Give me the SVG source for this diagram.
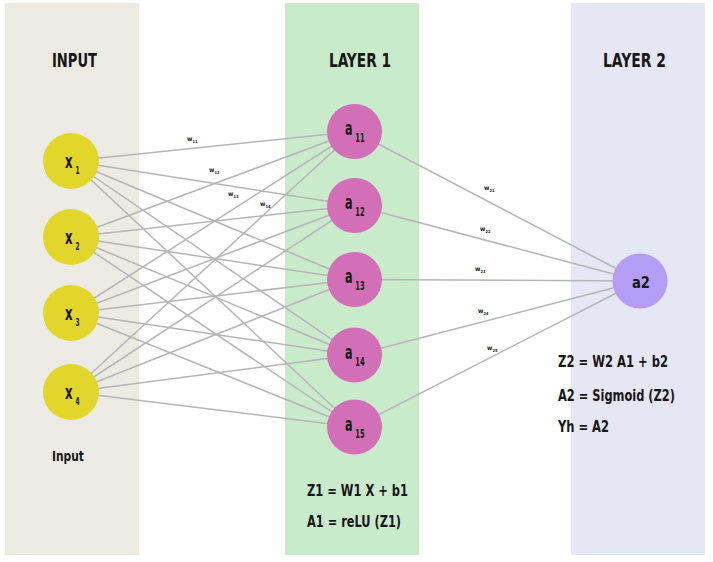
<svg xmlns="http://www.w3.org/2000/svg" width="713" height="562" viewBox="0 0 713 562">
<style>
.f{font-family:"Liberation Sans Narrow","DejaVu Sans Condensed","DejaVu Sans",sans-serif;font-stretch:condensed;font-weight:bold;fill:#161616}
.hdr{font-size:20px}
.lbl{font-size:20px}
.sub{font-size:12px}
.xsub{font-size:10px}
.eq{font-size:15px}
.w{font-size:6.5px}
.ws{font-size:4px}
.conn line{stroke:#b5b5b5;stroke-width:1.5}
.nx{fill:#e2d52c}
.na{fill:#d36fb6}
.nb{fill:#b49df4}
</style>
<rect width="713" height="562" fill="#ffffff"/>
<g id="panels">
<rect id="panel-input" x="5" y="3" width="134" height="552" fill="#ecebe3"/>
<rect id="panel-layer1" x="285" y="3" width="134" height="552" fill="#caeacc"/>
<rect id="panel-layer2" x="571" y="3" width="134" height="552" fill="#e6e6f5"/>
</g>
<g id="headers" class="f hdr">
<text x="52" y="67" textLength="45" lengthAdjust="spacingAndGlyphs">INPUT</text>
<text x="329" y="67" textLength="62" lengthAdjust="spacingAndGlyphs">LAYER 1</text>
<text x="603" y="67" textLength="63" lengthAdjust="spacingAndGlyphs">LAYER 2</text>
</g>
<g id="connectors" class="conn">
<line x1="71" y1="161" x2="354.5" y2="131.5"/>
<line x1="71" y1="161" x2="354.5" y2="205.5"/>
<line x1="71" y1="161" x2="354.5" y2="279.5"/>
<line x1="71" y1="161" x2="354.5" y2="355"/>
<line x1="71" y1="161" x2="354.5" y2="427"/>
<line x1="71" y1="237" x2="354.5" y2="131.5"/>
<line x1="71" y1="237" x2="354.5" y2="205.5"/>
<line x1="71" y1="237" x2="354.5" y2="279.5"/>
<line x1="71" y1="237" x2="354.5" y2="355"/>
<line x1="71" y1="237" x2="354.5" y2="427"/>
<line x1="71" y1="313" x2="354.5" y2="131.5"/>
<line x1="71" y1="313" x2="354.5" y2="205.5"/>
<line x1="71" y1="313" x2="354.5" y2="279.5"/>
<line x1="71" y1="313" x2="354.5" y2="355"/>
<line x1="71" y1="313" x2="354.5" y2="427"/>
<line x1="71" y1="392" x2="354.5" y2="131.5"/>
<line x1="71" y1="392" x2="354.5" y2="205.5"/>
<line x1="71" y1="392" x2="354.5" y2="279.5"/>
<line x1="71" y1="392" x2="354.5" y2="355"/>
<line x1="71" y1="392" x2="354.5" y2="427"/>
<line x1="354.5" y1="131.5" x2="640" y2="281"/>
<line x1="354.5" y1="205.5" x2="640" y2="281"/>
<line x1="354.5" y1="279.5" x2="640" y2="281"/>
<line x1="354.5" y1="355" x2="640" y2="281"/>
<line x1="354.5" y1="427" x2="640" y2="281"/>
</g>
<g id="weights" class="f w">
<text x="187" y="141">w<tspan class="ws" dy="1.5">11</tspan></text>
<text x="209" y="172">w<tspan class="ws" dy="1.5">12</tspan></text>
<text x="228" y="196">w<tspan class="ws" dy="1.5">13</tspan></text>
<text x="260" y="206">w<tspan class="ws" dy="1.5">14</tspan></text>
<text x="484" y="190">w<tspan class="ws" dy="1.5">21</tspan></text>
<text x="480" y="231">w<tspan class="ws" dy="1.5">22</tspan></text>
<text x="475" y="271">w<tspan class="ws" dy="1.5">23</tspan></text>
<text x="478" y="313">w<tspan class="ws" dy="1.5">24</tspan></text>
<text x="487" y="350">w<tspan class="ws" dy="1.5">25</tspan></text>
</g>
<g id="node-x1"><circle class="nx" cx="71" cy="161" r="28"/><text class="f lbl" transform="translate(65 168) scale(0.65 1)">x<tspan class="xsub" dx="4.5" dy="6">1</tspan></text></g>
<g id="node-x2"><circle class="nx" cx="71" cy="237" r="28"/><text class="f lbl" transform="translate(65 244) scale(0.65 1)">x<tspan class="xsub" dx="4.5" dy="6">2</tspan></text></g>
<g id="node-x3"><circle class="nx" cx="71" cy="313" r="28"/><text class="f lbl" transform="translate(65 320) scale(0.65 1)">x<tspan class="xsub" dx="4.5" dy="6">3</tspan></text></g>
<g id="node-x4"><circle class="nx" cx="71" cy="392" r="28"/><text class="f lbl" transform="translate(65 399) scale(0.65 1)">x<tspan class="xsub" dx="4.5" dy="6">4</tspan></text></g>
<g id="node-a11"><circle class="na" cx="354.5" cy="131.5" r="27.5"/><text class="f lbl" transform="translate(345 135) scale(0.62 1)">a<tspan class="sub" dx="4.5" dy="7">11</tspan></text></g>
<g id="node-a12"><circle class="na" cx="354.5" cy="205.5" r="27.5"/><text class="f lbl" transform="translate(345 209) scale(0.62 1)">a<tspan class="sub" dx="4.5" dy="7">12</tspan></text></g>
<g id="node-a13"><circle class="na" cx="354.5" cy="279.5" r="27.5"/><text class="f lbl" transform="translate(345 283) scale(0.62 1)">a<tspan class="sub" dx="4.5" dy="7">13</tspan></text></g>
<g id="node-a14"><circle class="na" cx="354.5" cy="355" r="27.5"/><text class="f lbl" transform="translate(345 358.5) scale(0.62 1)">a<tspan class="sub" dx="4.5" dy="7">14</tspan></text></g>
<g id="node-a15"><circle class="na" cx="354.5" cy="427" r="27.5"/><text class="f lbl" transform="translate(345 430.5) scale(0.62 1)">a<tspan class="sub" dx="4.5" dy="7">15</tspan></text></g>
<g id="node-a2"><circle class="nb" cx="640" cy="281" r="27.5"/><text class="f" style="font-size:16px" x="632" y="288" textLength="18" lengthAdjust="spacingAndGlyphs">a2</text></g>
<g id="labels" class="f eq">
<text x="52" y="461" style="font-size:14px" textLength="32" lengthAdjust="spacingAndGlyphs">Input</text>
<text x="307" y="496" textLength="101" lengthAdjust="spacingAndGlyphs">Z1 = W1 X + b1</text>
<text x="307" y="527" textLength="94" lengthAdjust="spacingAndGlyphs">A1 = reLU (Z1)</text>
<text x="558" y="367" textLength="110" lengthAdjust="spacingAndGlyphs">Z2 = W2 A1 + b2</text>
<text x="558" y="401" textLength="117" lengthAdjust="spacingAndGlyphs">A2 = Sigmoid (Z2)</text>
<text x="558" y="432" textLength="51" lengthAdjust="spacingAndGlyphs">Yh = A2</text>
</g>
</svg>
